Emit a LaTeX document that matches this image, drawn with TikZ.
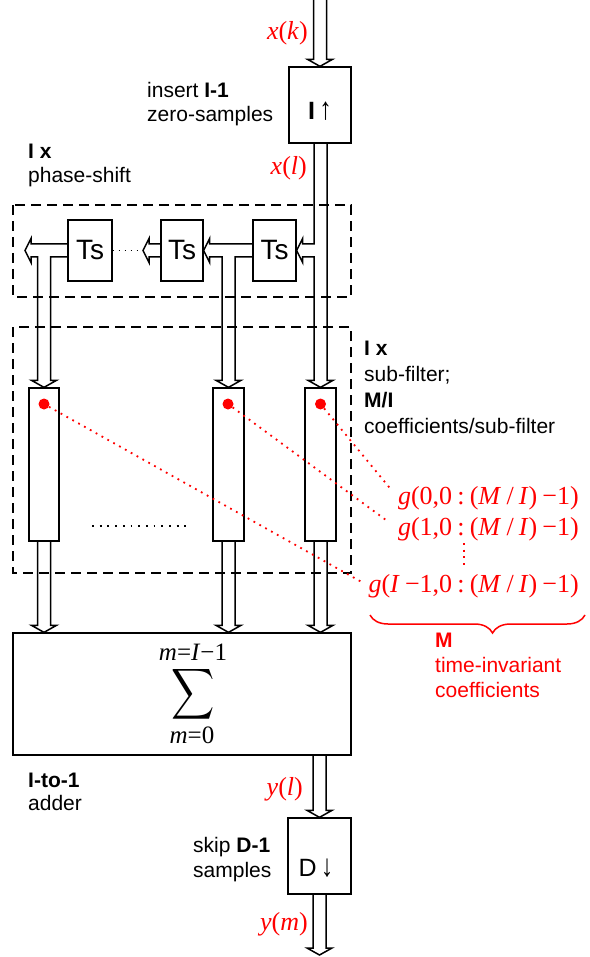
\documentclass[tikz,border=0pt]{standalone}
\usepackage{graphicx}
\usepackage{fontspec}
\setmainfont{Liberation Sans}
\newfontfamily\tms{Liberation Serif}
\usetikzlibrary{calc,decorations.pathreplacing}
\newcommand\gsp{\hspace{0.2em}}
% downward hollow block arrow: #1 start (top centre), #2 tip
\newcommand\vblk[2]{%
  \draw[blk] let \p1=(#1), \p2=(#2) in
    (\x2-6.5pt,\y1) -- (\x2-6.5pt,\y2+7pt) -- (\x2-12.5pt,\y2+7pt) -- (\x2,\y2)
    -- (\x2+12.5pt,\y2+7pt) -- (\x2+6.5pt,\y2+7pt) -- (\x2+6.5pt,\y1);}
% leftward hollow block arrow: #1 start (right centre), #2 tip
\newcommand\hblk[2]{%
  \draw[blk] let \p1=(#1), \p2=(#2) in
    (\x1,\y1+6.5pt) -- (\x2+6pt,\y1+6.5pt) -- (\x2+6pt,\y1+12pt) -- (\x2,\y1)
    -- (\x2+6pt,\y1-12pt) -- (\x2+6pt,\y1-6.5pt) -- (\x1,\y1-6.5pt);}
% leftward arrow with a downward branch: #1 start, #2 tip, #3 branch tip
\newcommand\tblk[3]{%
  \draw[blk] let \p1=(#1), \p2=(#2), \p3=(#3) in
    (\x1,\y1+6.5pt) -- (\x2+6pt,\y1+6.5pt) -- (\x2+6pt,\y1+12pt) -- (\x2,\y1)
    -- (\x2+6pt,\y1-12pt) -- (\x2+6pt,\y1-6.5pt) -- (\x3-6.5pt,\y1-6.5pt)
    -- (\x3-6.5pt,\y3+7pt) -- (\x3-12.5pt,\y3+7pt) -- (\x3,\y3)
    -- (\x3+12.5pt,\y3+7pt) -- (\x3+6.5pt,\y3+7pt) -- (\x3+6.5pt,\y1-6.5pt)
    -- (\x1,\y1-6.5pt);}
\begin{document}
\begin{tikzpicture}[x=1pt,y=-1pt,
  box/.style={draw,line width=1.3pt,inner sep=0pt},
  blk/.style={draw,line width=1.5pt,line join=miter},
  dbox/.style={draw,line width=1.3pt,dash pattern=on 10pt off 6pt},
  lbl/.style={font=\fontsize{21}{24}\selectfont,anchor=base west,inner sep=0pt},
  rlbl/.style={text=red,font=\fontsize{26}{28}\selectfont\tms,anchor=base east,inner sep=0pt},
  sumlbl/.style={font=\fontsize{25}{26}\selectfont\tms,anchor=base,inner sep=0pt},
  reddot/.style={red,line width=1.8pt,dash pattern=on 1.8pt off 4.9pt},
  blkdot/.style={black,line width=1.8pt,dash pattern=on 1.8pt off 4.2pt},
  rdot/.style={circle,fill=red,minimum size=11pt,inner sep=0pt},
]
\useasboundingbox (0,0) rectangle (589,957);

% dashed groups
\draw[dbox] (13,205) rectangle (351,297);
\draw[dbox] (13,327) rectangle (351,573);

% boxes
\node[box,minimum width=62pt,minimum height=76pt] (iup) at (320,105) {};
\node[font=\fontsize{25}{26}\selectfont] (iuptxt) at (320,111) {\textbf{I}\,\scalebox{1}[1.25]{↑}};
\node[box,minimum width=43pt,minimum height=61pt,font=\fontsize{28}{30}\selectfont] (ts1) at (274.5,250.5) {Ts};
\node[box,minimum width=42pt,minimum height=61pt,font=\fontsize{28}{30}\selectfont] (ts2) at (182,250.5) {Ts};
\node[box,minimum width=44pt,minimum height=61pt,font=\fontsize{28}{30}\selectfont] (ts3) at (90,250.5) {Ts};
\node[box,minimum width=30pt,minimum height=153pt] (sf1) at (44,464.5) {};
\node[box,minimum width=31pt,minimum height=153pt] (sf2) at (228.5,464.5) {};
\node[box,minimum width=31pt,minimum height=153pt] (sf3) at (320.5,464.5) {};
\node[box,minimum width=338pt,minimum height=122pt] (sum) at (182,694) {};
\node[box,minimum width=63pt,minimum height=76pt] (dn) at (319.5,856) {};
\node[font=\fontsize{25}{26}\selectfont] (dntxt) at (316,868) {D\,\scalebox{1}[1.25]{↓}};

% sum contents
\node[sumlbl] (suptxt) at (193,660) {\textit{m}=\textit{I}−1};
\node[inner sep=0pt] (sig) at (193,694) {\scalebox{3.0}[3.55]{$\displaystyle\sum$}};
\node[sumlbl] (subtxt) at (192,743) {\textit{m}=0};

% coordinates
\coordinate (in) at (320,0);
\coordinate (tip2) at (143,250.5);
\coordinate (tip3) at (25,250.5);
\coordinate (dotend) at (141,250.5);
\coordinate (el1) at (92,526);
\coordinate (el2) at (188,526);
\coordinate (out) at (319.5,955);
\coordinate (vd1) at (464,543);
\coordinate (vd2) at (464,569);

% block arrows
\vblk{in}{iup.north}
\draw[blk] let \p1=(iup.south), \p2=(sf3.north), \p3=(ts1.east) in
  (\x2-6.5pt,\y1) -- (\x2-6.5pt,\y3+6.5pt) -- (\x3+6pt,\y3+6.5pt) -- (\x3+6pt,\y3+12pt)
  -- (\x3,\y3) -- (\x3+6pt,\y3-12pt) -- (\x3+6pt,\y3-6.5pt) -- (\x2-6.5pt,\y3-6.5pt)
  -- (\x2-6.5pt,\y2+7pt) -- (\x2-12.5pt,\y2+7pt) -- (\x2,\y2) -- (\x2+12.5pt,\y2+7pt)
  -- (\x2+6.5pt,\y2+7pt) -- (\x2+6.5pt,\y1);
\tblk{ts1.west}{ts2.east}{sf2.north}
\hblk{ts2.west}{tip2}
\tblk{ts3.west}{tip3}{sf1.north}
\draw[blkdot] (ts3.east) -- (dotend);
\vblk{sf1.south}{sf1.south |- sum.north}
\vblk{sf2.south}{sf2.south |- sum.north}
\vblk{sf3.south}{sf3.south |- sum.north}
\vblk{sum.south -| dn.north}{dn.north}
\vblk{dn.south}{out}

% ellipsis
\draw[black,line width=1.8pt,dash pattern=on 1.8pt off 5.9pt] (el1) -- (el2);

% labels
\node[lbl] (l1) at (147,98) {insert \textbf{I-1}};
\node[lbl] (l2) at (147,122) {zero-samples};
\node[lbl] (l3) at (28,159) {\textbf{I x}};
\node[lbl] (l4) at (28,183) {phase-shift};
\node[lbl] (l5) at (364,355) {\textbf{I x}};
\node[lbl] (l6) at (364,381) {sub-filter;};
\node[lbl] (l7) at (364,407) {\textbf{M/I}};
\node[lbl] (l8) at (364,433) {coefficients/sub-filter};
\node[lbl] (l9) at (28,787) {\textbf{I-to-1}};
\node[lbl] (l10) at (28,810) {adder};
\node[lbl] (l11) at (193,852) {skip \textbf{D-1}};
\node[lbl] (l12) at (193,877) {samples};
\node[lbl,text=red] (m1) at (435,647) {\textbf{M}};
\node[lbl,text=red] (m2) at (435,672) {time-invariant};
\node[lbl,text=red] (m3) at (435,697) {coefficients};

\node[rlbl] (xk) at (308,40) {\textit{x}(\textit{k})};
\node[rlbl] (xl) at (307,175) {\textit{x}(\textit{l})};
\node[rlbl] (yl) at (303,795) {\textit{y}(\textit{l})};
\node[rlbl] (ym) at (308,930) {\textit{y}(\textit{m})};

\node[rlbl] (g0) at (579,504) {\textit{g}(0,0\gsp:\gsp(\textit{M}\gsp/\gsp\textit{I})\gsp−1)};
\node[rlbl] (g1) at (579,535) {\textit{g}(1,0\gsp:\gsp(\textit{M}\gsp/\gsp\textit{I})\gsp−1)};
\node[rlbl] (g2) at (579,592) {\textit{g}(\textit{I}\gsp−1,0\gsp:\gsp(\textit{M}\gsp/\gsp\textit{I})\gsp−1)};

% red dots and links
\node[rdot] (d1) at (44,404) {};
\node[rdot] (d2) at (228,404) {};
\node[rdot] (d3) at (320.5,404) {};
\draw[reddot,shorten >=10pt] (d3) -- (g0.west);
\draw[reddot,shorten >=14pt] (d2) -- (g1.west);
\draw[reddot,shorten >=7pt] (d1) -- (g2.west);
\draw[reddot] (vd1) -- (vd2);

% brace
\draw[red,line width=1.5pt,decorate,decoration={brace,mirror,amplitude=18pt,aspect=0.57}] (370,615) -- (585,615);
\end{tikzpicture}
\end{document}
